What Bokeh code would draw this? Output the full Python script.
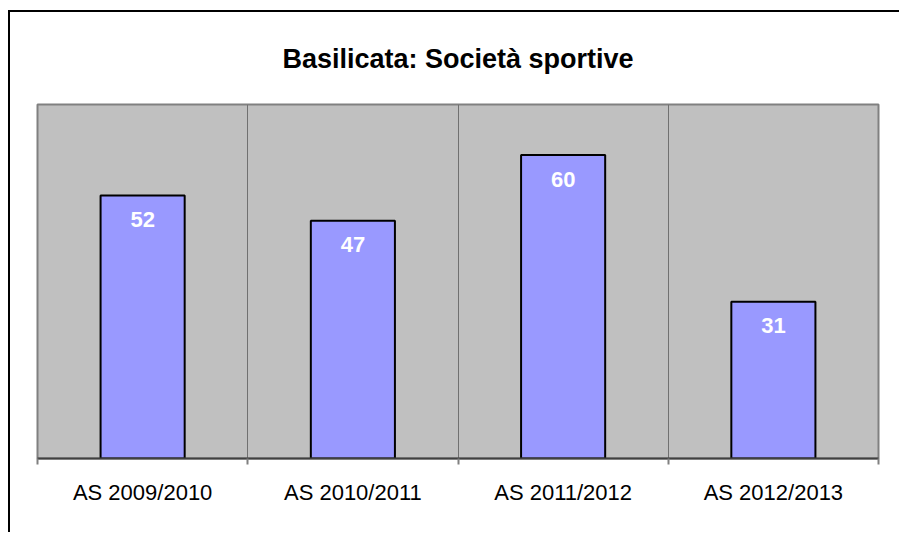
from bokeh.plotting import figure
from bokeh.models import FixedTicker, Range1d, ColumnDataSource
from bokeh.core.properties import value
from bokeh.embed import file_html
from bokeh.resources import INLINE

categories = ["AS 2009/2010", "AS 2010/2011", "AS 2011/2012", "AS 2012/2013"]
values = [52, 47, 60, 31]
title_text = "Basilicata: Società sportive"

xs = [i + 0.5 for i in range(len(categories))]
src = ColumnDataSource(dict(x=xs, top=values, label=[str(v) for v in values]))

p = figure(width=891, height=522, output_backend="svg", toolbar_location=None,
           x_range=Range1d(0, len(categories)), y_range=Range1d(0, 70),
           min_border_left=27, min_border_right=23, min_border_top=92, min_border_bottom=76)
p.styles = {"border-left": "2px solid #000000", "border-top": "2px solid #000000",
            "margin-top": "10px", "margin-left": "8px"}

p.title.text = title_text
p.title.align = "center"
p.title.vertical_align = "middle"
p.title.text_color = "#000000"
p.title.text_font = "Liberation Sans"
p.title.text_font_size = "27px"
p.title.text_font_style = "bold"
p.title.standoff = 60

p.background_fill_color = "#C0C0C0"
p.border_fill_color = "#FFFFFF"
p.outline_line_color = "#808080"
p.outline_line_width = 2

p.vbar(x="x", top="top", width=0.4, bottom=0, source=src,
       fill_color="#9999FF", line_color="#000000", line_width=2)
p.text(x="x", y="top", text="label", source=src, y_offset=24,
       text_align="center", text_baseline="middle",
       text_color="#FFFFFF", text_font=value("Liberation Sans"),
       text_font_size="22px", text_font_style="bold")

p.yaxis.visible = False
p.ygrid.visible = False

ax = p.xaxis[0]
ax.ticker = FixedTicker(ticks=xs, minor_ticks=list(range(len(categories) + 1)))
ax.major_label_overrides = {x: c for x, c in zip(xs, categories)}
ax.major_tick_out = 0
ax.major_tick_in = 0
ax.minor_tick_out = 6
ax.minor_tick_in = 0
ax.minor_tick_line_color = "#808080"
ax.minor_tick_line_width = 2
ax.axis_line_color = "#404040"
ax.axis_line_width = 2
ax.major_label_text_font = "Liberation Sans"
ax.major_label_text_font_size = "22px"
ax.major_label_text_color = "#000000"
ax.major_label_standoff = 15

p.xgrid.ticker = FixedTicker(ticks=list(range(1, len(categories))))
p.xgrid.grid_line_color = "#707070"
p.xgrid.grid_line_width = 1

open("out.html", "w").write(file_html(p, INLINE))
